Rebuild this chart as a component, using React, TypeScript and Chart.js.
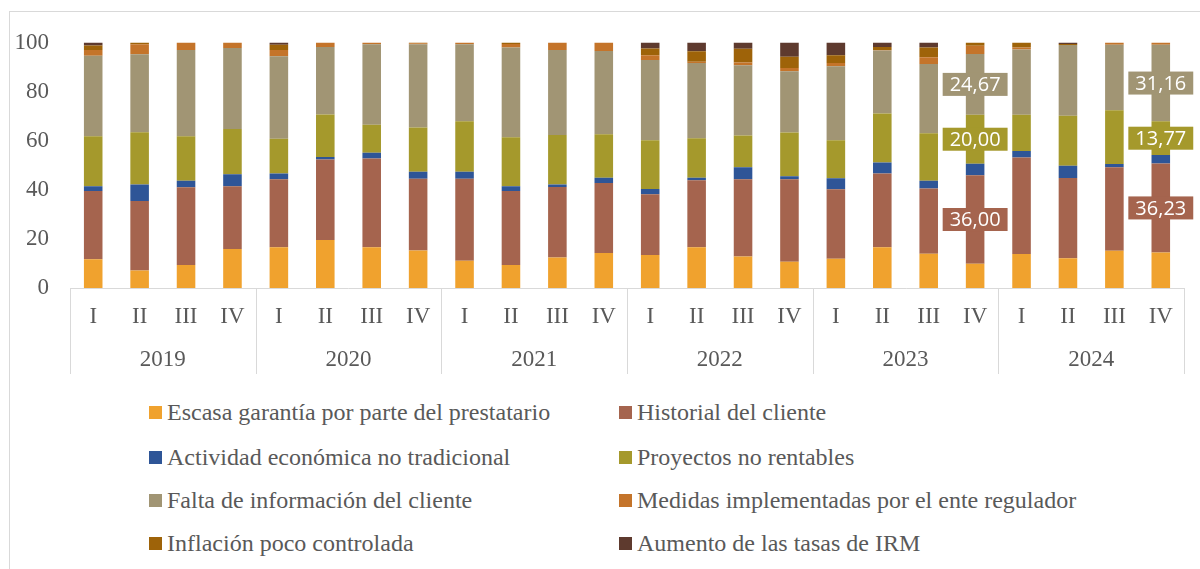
import React, { useEffect, useRef } from "react";
import { Chart, registerables } from "chart.js";

Chart.register(...registerables);

const years = ["2019", "2020", "2021", "2022", "2023", "2024"];
const quarters = ["I", "II", "III", "IV"];
const quarterLabels = years.flatMap(() => quarters);

const seriesNames = [
  "Escasa garantía por parte del prestatario",
  "Historial del cliente",
  "Actividad económica no tradicional",
  "Proyectos no rentables",
  "Falta de información del cliente",
  "Medidas implementadas por el ente regulador",
  "Inflación poco controlada",
  "Aumento de las tasas de IRM",
];

const seriesColors = [
  "#F0A22E",
  "#A5644E",
  "#2E5597",
  "#A5992C",
  "#A19574",
  "#C4742A",
  "#9E6309",
  "#5E3A2E",
];

const escasa = [11.7, 7.1, 9.4, 15.9, 16.6, 19.6, 16.6, 15.3, 11.1, 9.4, 12.4, 14.3, 13.4, 16.6, 12.8, 10.7, 11.9, 16.6, 14.0, 9.9, 13.8, 12.1, 15.2, 14.5];
const historial = [27.8, 28.3, 31.6, 25.5, 27.7, 32.7, 36.2, 29.2, 33.4, 30.1, 28.7, 28.5, 24.8, 27.3, 31.5, 33.6, 28.3, 30.0, 26.5, 36.0, 39.4, 32.7, 34.0, 36.23];
const actividad = [1.9, 6.8, 2.7, 4.9, 2.3, 1.1, 2.3, 2.9, 2.9, 1.9, 1.1, 2.1, 2.1, 1.0, 4.9, 1.2, 4.5, 4.5, 3.2, 4.7, 2.6, 5.0, 1.3, 3.4];
const proyectos = [20.4, 21.2, 18.1, 18.5, 14.2, 17.3, 11.4, 18.0, 20.5, 20.0, 20.1, 17.7, 19.9, 16.1, 12.9, 17.8, 15.5, 20.0, 19.3, 20.0, 14.8, 20.4, 21.9, 13.77];
const falta = [32.8, 31.8, 35.1, 33.0, 33.6, 27.5, 32.8, 33.9, 31.4, 36.6, 34.6, 33.9, 32.7, 30.6, 28.6, 25.0, 30.1, 25.6, 28.2, 24.67, 26.5, 28.8, 26.7, 31.16];
const medidas = [2.3, 4.1, 3.1, 2.2, 2.5, 1.8, 0.7, 0.4, 0.7, 1.4, 3.1, 3.5, 1.9, 0.6, 1.2, 1.3, 1.3, 0.2, 2.8, 3.4, 0.9, 0, 0.9, 0.94];
const inflacion = [1.9, 0.7, 0, 0, 2.2, 0, 0, 0.3, 0, 0.6, 0, 0, 2.8, 4.2, 5.6, 4.6, 3.2, 1.3, 4.0, 1.33, 2.0, 0.4, 0, 0];
const aumento = [1.2, 0, 0, 0, 0.9, 0, 0, 0, 0, 0, 0, 0, 2.4, 3.6, 2.5, 5.8, 5.2, 1.8, 2.0, 0, 0, 0.6, 0, 0];

const seriesValues = [escasa, historial, actividad, proyectos, falta, medidas, inflacion, aumento];

// which series / which bars carry data labels
const labeledSeries = [1, 3, 4];
const labeledBars = [19, 23];

const SERIF = '"Liberation Serif", "Times New Roman", serif';
const TEXT_COLOR = "#595959";
const LINE_COLOR = "#d9d9d9";

const valueLabelPlugin = {
  id: "valueLabels",
  afterDatasetsDraw(chart: any) {
    const ctx = chart.ctx;
    ctx.save();
    ctx.font = '20px "Open Sans", "Noto Sans", sans-serif';
    ctx.textAlign = "center";
    ctx.textBaseline = "middle";
    labeledSeries.forEach((di) => {
      const meta = chart.getDatasetMeta(di);
      const ds = chart.data.datasets[di];
      labeledBars.forEach((i) => {
        const el = meta.data[i];
        if (!el) return;
        const v = ds.data[i] as number;
        const text = v.toFixed(2).replace(".", ",");
        const { x, y, base } = el.getProps(["x", "y", "base"], true);
        const cy = (y + base) / 2;
        const w = ctx.measureText(text).width + 14;
        const h = 23;
        ctx.fillStyle = ds.backgroundColor;
        ctx.fillRect(x - w / 2, cy - h / 2, w, h);
        ctx.fillStyle = "#ffffff";
        ctx.fillText(text, x, cy + 1);
      });
    });
    ctx.restore();
  },
};

const groupLinesPlugin = {
  id: "groupLines",
  afterDraw(chart: any) {
    const xs = chart.scales.x;
    const x2 = chart.scales.x2;
    const ctx = chart.ctx;
    ctx.save();
    ctx.strokeStyle = LINE_COLOR;
    ctx.lineWidth = 1;
    for (let g = 0; g <= years.length; g++) {
      const px = Math.round(xs.getPixelForValue(g * quarters.length - 0.5)) + 0.5;
      ctx.beginPath();
      ctx.moveTo(px, chart.chartArea.bottom);
      ctx.lineTo(px, x2.bottom);
      ctx.stroke();
    }
    ctx.restore();
  },
};

function ChartCanvas() {
  const ref = useRef<HTMLCanvasElement | null>(null);
  useEffect(() => {
    if (!ref.current) return;
    const chart = new Chart(ref.current, {
      type: "bar",
      data: {
        labels: quarterLabels,
        datasets: seriesNames.map((name, i) => ({
          label: name,
          data: seriesValues[i],
          backgroundColor: seriesColors[i],
          borderWidth: 0,
          barPercentage: 0.4,
          categoryPercentage: 1,
          xAxisID: "x",
          yAxisID: "y",
        })),
      },
      options: {
        responsive: false,
        animation: false,
        devicePixelRatio: 1,
        layout: { padding: { left: 0, top: 30.5, right: 16, bottom: 18 } },
        plugins: {
          legend: { display: false },
          tooltip: { enabled: false },
        },
        scales: {
          x: {
            type: "category",
            stacked: true,
            offset: true,
            grid: { display: false, drawTicks: false },
            border: { display: true, color: LINE_COLOR, width: 1 },
            ticks: {
              autoSkip: false,
              maxRotation: 0,
              padding: 15.2,
              color: TEXT_COLOR,
              font: { family: SERIF, size: 23 },
            },
          },
          x2: {
            type: "category",
            position: "bottom",
            labels: years,
            offset: true,
            grid: { display: false, drawTicks: false },
            border: { display: false },
            ticks: {
              autoSkip: false,
              maxRotation: 0,
              padding: 0.2,
              color: TEXT_COLOR,
              font: { family: SERIF, size: 23 },
            },
          },
          y: {
            stacked: true,
            min: 0,
            max: 100,
            grid: { display: false, drawTicks: false },
            border: { display: false },
            afterFit: (scale: any) => {
              scale.width = 60;
              scale.paddingTop = 0;
              scale.paddingBottom = 0;
            },
            ticks: {
              stepSize: 20,
              padding: 21,
              color: TEXT_COLOR,
              font: { family: SERIF, size: 23 },
            },
          },
        },
      },
      plugins: [valueLabelPlugin, groupLinesPlugin],
    } as any);
    return () => chart.destroy();
  }, []);
  return <canvas ref={ref} width={1190} height={380} style={{ display: "block" }} />;
}

const legendCols = [139, 609];
const legendRows = [400, 445, 488, 531];

export default function App() {
  return (
    <div
      style={{
        position: "absolute",
        left: 9,
        top: 11,
        width: 1190,
        height: 557,
        borderLeft: `1px solid ${LINE_COLOR}`,
        borderTop: `1px solid ${LINE_COLOR}`,
        overflow: "hidden",
        background: "#ffffff",
      }}
    >
      <ChartCanvas />
      {seriesNames.map((name, i) => (
        <div
          key={name}
          style={{
            position: "absolute",
            left: legendCols[i % 2],
            top: legendRows[Math.floor(i / 2)] - 16,
            height: 32,
            display: "flex",
            alignItems: "center",
            whiteSpace: "nowrap",
            fontFamily: SERIF,
            fontSize: 24,
            color: TEXT_COLOR,
          }}
        >
          <span
            style={{
              display: "inline-block",
              width: 13,
              height: 13,
              background: seriesColors[i],
              marginRight: 5,
            }}
          />
          <span>{name}</span>
        </div>
      ))}
    </div>
  );
}
